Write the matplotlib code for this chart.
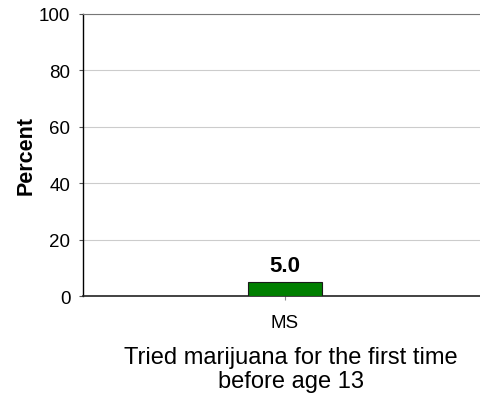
import matplotlib.pyplot as plt

plt.rcParams['font.family'] = ['Liberation Sans', 'DejaVu Sans']

# Data
categories = ['MS']
values = [5.0]
yticks = [0, 20, 40, 60, 80, 100]
title = 'Tried marijuana for the first time\nbefore age 13'

fig = plt.figure(figsize=(4.81, 4.02), dpi=100)
ax = fig.add_axes([83/481, 1-297/402, 404/481, 282/402])

x = range(len(categories))
bars = ax.bar(x, values, 0.183, color='#007f00', edgecolor='#1a1a1a',
              linewidth=0.8, zorder=3)

for bar in bars:
    h = bar.get_height()
    ax.text(bar.get_x() + bar.get_width()/2., h + 2.2, f'{h:.1f}',
            ha='center', va='bottom', fontsize=16, fontweight='bold')

ax.set_xlim(-0.5, 0.5)
ax.set_ylim(0, 100)
ax.set_yticks(yticks)
ax.set_xticks(list(x))
ax.set_xticklabels(categories, fontsize=13.5)
ax.tick_params(axis='y', labelsize=13.5, length=3, width=0.8, color='#555555', pad=6)
ax.tick_params(axis='x', length=3, width=0.8, color='#888888', pad=10)
ax.grid(axis='y', color='#cccccc', linewidth=0.8, zorder=0)
ax.spines['right'].set_visible(False)
ax.spines['top'].set_color('#777777')
ax.spines['left'].set_linewidth(1)
ax.spines['bottom'].set_linewidth(1.2)
ax.spines['bottom'].set_color('#222222')
ax.set_ylabel('Percent', fontsize=15.5, fontweight='bold', labelpad=2)

fig.text(291/481, 1-370/402, title, ha='center', va='center',
         fontsize=17, linespacing=1.15)

plt.savefig('out.png', dpi=100)
